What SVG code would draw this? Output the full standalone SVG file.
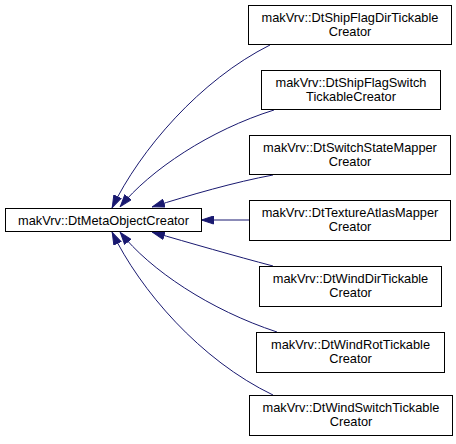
<svg xmlns="http://www.w3.org/2000/svg" width="456" height="444" viewBox="0 0 456 444">
<style>
.box{fill:#ffffff;stroke:#000000;stroke-width:1}
.lbl{font-family:"Liberation Sans",Arial,sans-serif;font-size:12.8px;fill:#000000;text-anchor:middle}
.edge{fill:none;stroke:#191970;stroke-width:1}
</style>
<defs>
<marker id="ah" viewBox="0 0 13 9" refX="13" refY="4.5" markerWidth="13" markerHeight="9" markerUnits="userSpaceOnUse" orient="auto-start-reverse">
<path d="M0.5,0.5 L12.5,4.5 L0.5,8.5 z" fill="#191970" stroke="#191970" stroke-width="1"/>
</marker>
</defs>
<rect width="456" height="444" fill="#ffffff"/>
<g id="edges">
<path class="edge" marker-start="url(#ah)" d="M112,208 C140,150 200,80 270,45"/>
<path class="edge" marker-start="url(#ah)" d="M120,207 C150,170 210,130 274,110"/>
<path class="edge" marker-start="url(#ah)" d="M152,207 C190,195 235,182 273,175"/>
<path class="edge" marker-start="url(#ah)" d="M201,220 L249,220"/>
<path class="edge" marker-start="url(#ah)" d="M152,232 C190,243 235,256 273,266"/>
<path class="edge" marker-start="url(#ah)" d="M120,232 C150,270 210,310 277,332"/>
<path class="edge" marker-start="url(#ah)" d="M112,232 C140,290 200,360 273,395"/>
</g>
<g id="n0">
<rect class="box" x="5.5" y="208.5" width="196" height="23"/>
<text class="lbl" x="103.5" y="225">makVrv::DtMetaObjectCreator</text>
</g>
<g id="n1">
<rect class="box" x="248.5" y="5.5" width="203" height="39"/>
<text class="lbl" x="350" y="22">makVrv::DtShipFlagDirTickable</text>
<text class="lbl" x="350" y="36">Creator</text>
</g>
<g id="n2">
<rect class="box" x="261.5" y="70.5" width="179" height="39"/>
<text class="lbl" x="351" y="87">makVrv::DtShipFlagSwitch</text>
<text class="lbl" x="351" y="101">TickableCreator</text>
</g>
<g id="n3">
<rect class="box" x="249.5" y="135.5" width="201" height="39"/>
<text class="lbl" x="350" y="152">makVrv::DtSwitchStateMapper</text>
<text class="lbl" x="350" y="166">Creator</text>
</g>
<g id="n4">
<rect class="box" x="249.5" y="200.5" width="201" height="40"/>
<text class="lbl" x="350" y="217">makVrv::DtTextureAtlasMapper</text>
<text class="lbl" x="350" y="231">Creator</text>
</g>
<g id="n5">
<rect class="box" x="259.5" y="266.5" width="182" height="40"/>
<text class="lbl" x="350.5" y="283">makVrv::DtWindDirTickable</text>
<text class="lbl" x="350.5" y="297">Creator</text>
</g>
<g id="n6">
<rect class="box" x="256.5" y="332.5" width="188" height="40"/>
<text class="lbl" x="350.5" y="349">makVrv::DtWindRotTickable</text>
<text class="lbl" x="350.5" y="363">Creator</text>
</g>
<g id="n7">
<rect class="box" x="249.5" y="395.5" width="203" height="40"/>
<text class="lbl" x="351" y="412">makVrv::DtWindSwitchTickable</text>
<text class="lbl" x="351" y="426">Creator</text>
</g>
</svg>
